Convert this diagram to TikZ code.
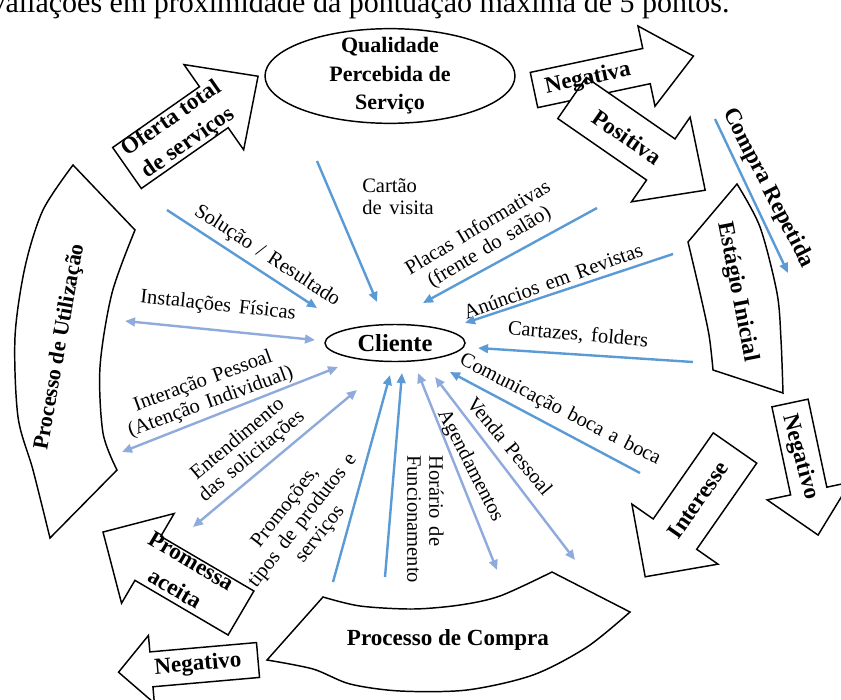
\documentclass[tikz,border=0pt]{standalone}
\usepackage{fontspec}
\setmainfont{Liberation Serif}
\newfontfamily\lblfont[WordSpace=1.5]{Liberation Serif}
\usetikzlibrary{arrows.meta,shapes.geometric}
\definecolor{dkb}{HTML}{5B9BD5}
\definecolor{ltb}{HTML}{8FAADC}
\tikzset{
  shp/.style={draw=black, line width=1.1pt, fill=white, line join=miter},
  dkline/.style={draw=dkb, line width=1.8pt, -{Triangle[length=7.5pt,width=6.5pt]}},
  ltline/.style={draw=ltb, line width=1.8pt, {Triangle[length=7.5pt,width=6.5pt]}-{Triangle[length=7.5pt,width=6.5pt]}},
  lbl/.style={font=\lblfont\fontsize{15.4}{16.5}\selectfont, align=center, inner sep=0pt},
  blbl/.style={font=\bfseries\fontsize{17.3}{22}\selectfont, align=center, inner sep=0pt},
}
% block arrow: base x, base y, angle, length, shaft width, head length, head width
\newcommand{\barrow}[7]{%
  \begin{scope}[shift={(#1,#2)}, rotate=#3]
    \draw[shp] (0,-#5/2) -- ({#4-#6},-#5/2) -- ({#4-#6},-#7/2) -- (#4,0)
      -- ({#4-#6},#7/2) -- ({#4-#6},#5/2) -- (0,#5/2) -- cycle;
  \end{scope}}
\begin{document}
\begin{tikzpicture}[x=0.75pt,y=-0.75pt]
\useasboundingbox (0,0) rectangle (841,699);
\clip (0,0) rectangle (841,699);
\fill[white] (0,0) rectangle (841,699);

% cut-off line of text at the top
\node[anchor=base west, inner sep=0pt, font=\fontsize{22.5}{27}\selectfont] (toptext) at (-23,13)
  {avaliações em proximidade da pontuação máxima de 5 pontos.};

% ---------- curved bands ----------
\draw[shp] (73,165) -- (135,230)
  -- plot[smooth] coordinates {(135,230) (112,293) (100,367) (103,433) (117,470)}
  -- (50,538)
  -- plot[smooth] coordinates {(50,538) (33,470) (18,417) (15,337) (25,267) (43,210) (73,165)}
  -- cycle;
\draw[shp] (737,184) -- (688,242)
  -- plot[smooth] coordinates {(688,242) (700,293) (709,335) (713,370)}
  -- (783,393)
  -- plot[smooth] coordinates {(783,393) (781,340) (777,293) (760,227) (737,184)}
  -- cycle;
\draw[shp] (323,597)
  -- plot[smooth] coordinates {(323,597) (360,606) (413,609) (460,605) (500,596) (552,572)}
  -- (630,612)
  -- plot[smooth] coordinates {(630,612) (587,647) (533,675) (467,690) (400,691) (350,684) (313,669) (267,660)}
  -- cycle;

% ---------- block arrows ----------
\barrow{127}{168}{35}{160}{50}{54}{104}     % Oferta total
\barrow{534}{90}{12}{163}{36}{48}{82}       % Negativa
\barrow{572}{98}{-34.7}{162}{50}{54}{103}   % Positiva
\barrow{735}{448}{-124.9}{157}{53}{52}{105} % Interesse
\barrow{790}{403}{-78}{135}{37}{45}{85}     % Negativo (right)
\barrow{241}{613}{149.6}{160}{51}{52}{104}  % Promessa aceita
\barrow{258}{660}{185}{140}{35}{33}{68}     % Negativo (bottom)

% ---------- ellipses ----------
\node[ellipse, draw, line width=1.1pt, fill=white, minimum width=187.5pt, minimum height=71pt] (qual) at (390,76) {};
\node[blbl, font=\bfseries\fontsize{16.5}{21.4}\selectfont] (qualt) at (qual.center) {Qualidade\\Percebida de\\Serviço};
\node[ellipse, draw, line width=1.1pt, fill=white, minimum width=105pt, minimum height=27.75pt] (cli) at (395,343) {};
\node[blbl, font=\bfseries\fontsize{18.4}{20}\selectfont] (clit) at (cli.center) {Cliente};

% ---------- bold labels ----------
\node[blbl, rotate=35] (oferta) at (180,131) {Oferta total\\de serviços};
\node[blbl, rotate=12] (negativa) at (588,79) {Negativa};
\node[blbl, rotate=-34.7] (positiva) at (627,137) {Positiva};
\node[blbl, rotate=-63] (comprarep) at (768,188) {Compra Repetida};
\node[blbl, rotate=-79] (estagio) at (737,292) {Estágio Inicial};
\node[blbl, rotate=-75] (negright) at (800,457) {Negativo};
\node[blbl, rotate=55.1] (interesse) at (698,500) {Interesse};
\node[blbl] (pcompra) at (448,640) {Processo de Compra};
\node[blbl, rotate=-30.4, font=\bfseries\fontsize{17.3}{24}\selectfont] (promessa) at (183,575) {Promessa\\aceita};
\node[blbl, rotate=5] (negbottom) at (198,665) {Negativo};
\node[blbl, rotate=80, font=\bfseries\fontsize{16.5}{20}\selectfont] (putil) at (60,347) {Processo de Utilização};

% ---------- connector end points ----------
\coordinate (solA) at (167,210);  \coordinate (solB) at (317,308);
\coordinate (carA) at (317,161);  \coordinate (carB) at (377,302);
\coordinate (plaA) at (597,208);  \coordinate (plaB) at (423,303);
\coordinate (anuA) at (673,254);  \coordinate (anuB) at (465,323);
\coordinate (ctzA) at (693,362);  \coordinate (ctzB) at (478,348);
\coordinate (comA) at (640,473);  \coordinate (comB) at (450,372);
\coordinate (proA) at (333,582);  \coordinate (proB) at (390,375);
\coordinate (horA) at (385,577);  \coordinate (horB) at (402,373);
\coordinate (crA) at (715,119);   \coordinate (crB) at (788,273);
\coordinate (insA) at (125,321);  \coordinate (insB) at (315,340);
\coordinate (intA) at (122,452);  \coordinate (intB) at (338,367);
\coordinate (entA) at (193,527);  \coordinate (entB) at (357,390);
\coordinate (agA) at (418,373);   \coordinate (agB) at (497,570);
\coordinate (veA) at (435,377);   \coordinate (veB) at (575,560);

% ---------- connectors ----------
\draw[dkline] (solA) -- (solB);
\draw[dkline] (carA) -- (carB);
\draw[dkline] (plaA) -- (plaB);
\draw[dkline] (anuA) -- (anuB);
\draw[dkline] (ctzA) -- (ctzB);
\draw[dkline] (comA) -- (comB);
\draw[dkline] (proA) -- (proB);
\draw[dkline] (horA) -- (horB);
\draw[dkline] (crA) -- (crB);
\draw[ltline] (insA) -- (insB);
\draw[ltline] (intA) -- (intB);
\draw[ltline] (entA) -- (entB);
\draw[ltline] (agA) -- (agB);
\draw[ltline] (veA) -- (veB);

% ---------- regular labels ----------
\node[lbl, rotate=-33] (lsol) at (267,256) {Solução / Resultado};
\node[lbl, align=left, anchor=west] (lcar) at (362,197) {Cartão\\de visita};
\node[lbl, rotate=31] (lpla) at (484,238) {Placas Informativas\\(frente do salão)};
\node[lbl, rotate=20] (lanu) at (553,281) {Anúncios em Revistas};
\node[lbl, rotate=-5] (lctz) at (578,335) {Cartazes, folders};
\node[lbl, rotate=-27] (lcom) at (560,410) {Comunicação boca a boca};
\node[lbl, rotate=-50] (lve) at (510,446) {Venda Pessoal};
\node[lbl, rotate=-63] (lag) at (470,466) {Agendamentos};
\node[lbl, rotate=-90, align=left, anchor=north west] (lhor) at (444,455) {Horário de\\Funcionamento};
\node[lbl, rotate=52] (lpro) at (303,521) {Promoções,\\tipos de produtos e\\serviços};
\node[lbl, rotate=40] (lent) at (245,448) {Entendimento\\das solicitações};
\node[lbl, rotate=20] (lint) at (207,392) {Interação Pessoal\\(Atenção Individual)};
\node[lbl, rotate=-6] (lins) at (218,306) {Instalações Físicas};
\end{tikzpicture}
\end{document}
